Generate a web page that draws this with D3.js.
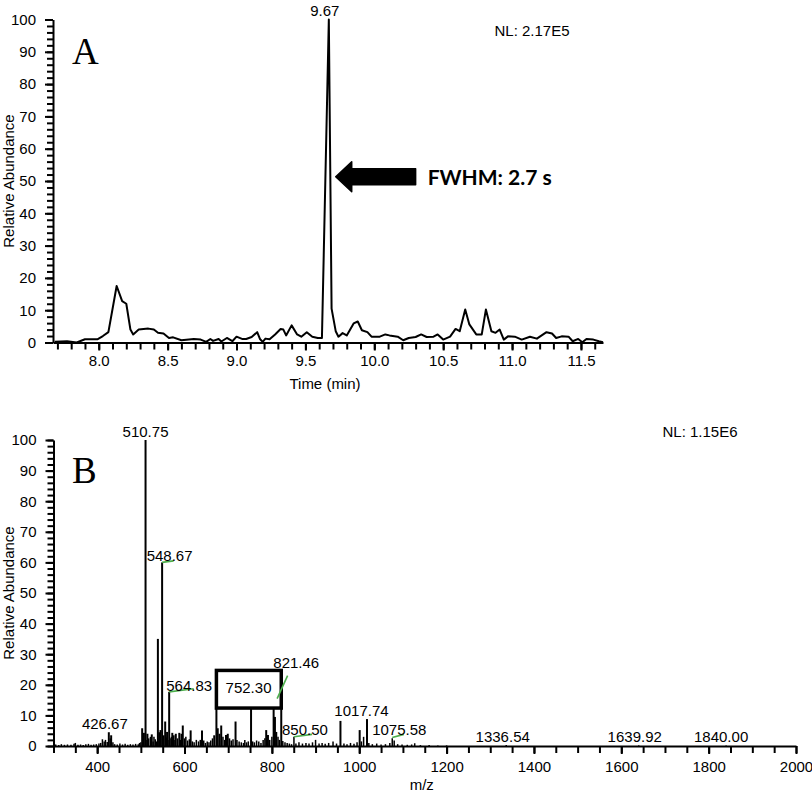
<!DOCTYPE html>
<html>
<head>
<meta charset="utf-8">
<script src="https://cdn.jsdelivr.net/npm/d3@7/dist/d3.min.js"></script>
<style>
body { margin: 0; background: #fff; }
</style>
</head>
<body>
<div id="chart"></div>
<script>
// ---- panel A : chromatogram ----
const timeMin = [7.68, 7.77, 7.84, 7.90, 7.99, 8.03, 8.07, 8.13, 8.17, 8.20, 8.23, 8.25, 8.29, 8.36, 8.40, 8.43, 8.47, 8.51, 8.54, 8.60,
  8.69, 8.74, 8.78, 8.81, 8.83, 8.87, 8.89, 8.93, 8.97, 9.00, 9.04, 9.07, 9.11, 9.15, 9.17, 9.19, 9.21, 9.24, 9.28, 9.32,
  9.34, 9.36, 9.40, 9.44, 9.47, 9.51, 9.55, 9.59, 9.62, 9.67, 9.69, 9.72, 9.74, 9.77, 9.80, 9.85, 9.88, 9.91, 9.95, 9.98,
  10.04, 10.08, 10.11, 10.17, 10.21, 10.25, 10.30, 10.34, 10.38, 10.43, 10.46, 10.50, 10.55, 10.59, 10.62, 10.66, 10.69, 10.74, 10.78, 10.81,
  10.85, 10.88, 10.91, 10.94, 10.97, 11.02, 11.07, 11.13, 11.18, 11.25, 11.29, 11.32, 11.36, 11.41, 11.44, 11.48, 11.51, 11.54, 11.59, 11.63, 11.66];
const abundanceA = [0.2, 0.4, 0, 1.0, 1.0, 2.0, 3.2, 17.5, 12.8, 12.0, 4.0, 2.5, 4.0, 4.3, 4.0, 3.0, 2.8, 1.4, 1.6, 0.7,
  1.1, 0.9, 0.2, 1.1, 0.5, 1.1, 0.3, 1.4, 0.4, 1.8, 1.1, 1.1, 1.7, 3.2, 1.1, 0.2, 1.2, 1.0, 2.5, 4.2,
  4.0, 2.2, 5.3, 2.5, 1.8, 3.2, 1.8, 1.4, 1.4, 100, 10.5, 3.5, 1.8, 2.9, 2.2, 5.9, 6.5, 3.8, 3.2, 1.8,
  1.8, 2.5, 2.2, 1.8, 0.7, 1.4, 1.7, 2.5, 1.7, 1.8, 2.5, 0.9, 1.8, 4.2, 3.5, 10.2, 5.6, 2.5, 2.5, 10.2,
  3.5, 3.0, 4.0, 0.9, 1.9, 1.8, 0.9, 1.8, 1.2, 3.2, 2.8, 1.4, 1.9, 1.8, 0.4, 1.1, 0.1, 1.1, 0.9, 0.4, 0.1];
const apexTime = 9.67;
const nlA = "NL: 2.17E5";
const fwhmText = "FWHM: 2.7 s";
const arrowTip = [9.72, 51.3];
const arrowTailTime = 10.30;
const xTicksA = [8.0, 8.5, 9.0, 9.5, 10.0, 10.5, 11.0, 11.5];
const xMinorA = d3.range(77, 117).map(d => d / 10);

// ---- panel B : mass spectrum ----
const mz = [305, 312, 318, 325, 332, 340, 347, 350, 356, 362, 368, 374, 380, 386, 392, 398, 404, 408, 412, 416,
  419, 423, 426.67, 430, 432, 436, 440, 446, 452, 458, 464, 470, 476, 482, 488, 494, 497,
  500, 503, 507, 510.75, 512, 515, 518, 522, 525, 528, 530, 533, 536, 539, 542, 545, 548.67, 552, 555.7, 558, 560, 562,
  564.83, 567, 570, 572, 575, 578, 580, 584, 588, 591, 593, 596, 600, 603, 607, 611, 614, 618, 622, 627,
  632, 636, 640, 644, 648, 652, 656, 660, 664, 668, 673, 676, 680, 684, 688, 692, 695, 699, 703, 707,
  711, 716.8, 720, 725, 730, 735, 738, 742, 746, 752.30, 756, 760, 765, 770, 775, 780, 784, 787, 791, 795,
  800, 804, 807, 810, 814, 817, 821.46, 825, 830, 835, 840, 845, 850.50, 855, 862, 870, 878, 885, 893, 900,
  908, 915, 922, 930, 940, 948, 957, 965, 972, 980, 988, 995, 1001, 1005, 1010, 1017.74, 1022, 1030, 1040, 1050,
  1060, 1070, 1075.58, 1080, 1088, 1098, 1110, 1120, 1127, 1140, 1160, 1180, 1200, 1336.54, 1639.92, 1840.00];
const abundanceB = [0.5, 0.3, 0.6, 0.4, 0.5, 0.4, 0.7, 1.0, 0.4, 0.5, 0.3, 0.6, 0.7, 0.4, 0.5, 0.6, 0.8, 1.0, 2.2, 1.5,
  2.0, 1.3, 4.5, 2.5, 3.5, 1.2, 0.6, 0.5, 0.8, 0.5, 0.7, 0.4, 0.6, 0.5, 0.7, 0.6, 1.0,
  1.2, 5.8, 4.3, 100, 2.0, 4.0, 2.5, 3.0, 3.8, 1.5, 3.0, 2.2, 1.5, 35, 4.5, 5.2, 60, 3.5, 8.0, 2.8, 4.6, 2.0,
  17.7, 2.5, 3.0, 4.3, 3.5, 2.0, 4.0, 2.5, 4.3, 2.0, 4.0, 6.7, 2.5, 3.0, 1.8, 2.2, 5.1, 1.5, 1.2, 2.0,
  1.5, 2.0, 5.1, 1.8, 1.0, 1.5, 1.2, 1.8, 2.5, 3.5, 12.5, 5.8, 4.0, 6.7, 3.0, 2.0, 3.6, 4.0, 2.5, 1.8,
  2.2, 8.0, 2.0, 1.5, 1.2, 1.0, 2.0, 1.2, 1.5, 15, 1.5, 1.2, 1.8, 1.5, 1.0, 2.0, 2.5, 5.2, 3.6, 2.0,
  3.0, 16.5, 9.5, 4.6, 3.0, 2.0, 18.5, 1.6, 1.2, 1.0, 0.8, 0.6, 3.0, 0.8, 1.2, 0.8, 1.0, 0.8, 1.2, 2.0,
  0.8, 1.0, 0.7, 1.0, 1.5, 0.8, 8.2, 0.8, 0.6, 1.0, 0.7, 1.2, 5.2, 1.5, 3.0, 8.8, 1.0, 0.6, 0.8, 0.5,
  0.6, 1.0, 2.5, 1.8, 0.6, 0.5, 0.4, 0.5, 0.9, 0.3, 0.3, 0.2, 0.2, 0.3, 0.2, 0.2];
const labelMz = [426.67, 510.75, 548.67, 564.83, 752.30, 821.46, 850.50, 1017.74, 1075.58, 1336.54, 1639.92, 1840.00];
const labelInt = [4.5, 100, 60, 17.7, 15, 18.5, 3.0, 8.8, 2.5, 0.3, 0.2, 0.2];
// label placement relative to the peak top (px): [dx, dy]
const labelOffset = [[-4, -3], [0, -3], [7.5, -1], [20, -1], [-2.5, -7.5], [15, -21], [11, -1.5], [-5.5, -3], [7, -3], [-3.5, -3], [-4, -3.5], [-5, -3.5]];
// green leader lines [mz1, int1, mz2, int2]
const leaders = [[548.67, 60, 575, 60.5], [564.83, 17.7, 621, 18.7], [812, 15.5, 836, 23], [850.5, 3.0, 892, 3.8], [1075.6, 2.8, 1102, 3.8]];
const boxMz = [673, 821.46];
const boxInt = [12.4, 24.7];
const nlB = "NL: 1.15E6";
const xTicksB = [400, 600, 800, 1000, 1200, 1400, 1600, 1800, 2000];
const xMinorB = d3.range(300, 2001, 50);

const yTicks = d3.range(0, 101, 10);
const yMinor = d3.range(0, 101, 2);

const width = 812, height = 797;
const font = "'Liberation Sans', Arial, Helvetica, sans-serif";
const green = "#4cae4c";

const svg = d3.select("#chart").append("svg")
  .attr("width", width)
  .attr("height", height)
  .style("font-family", font);

function drawAxes(x, y, xMajor, xMinor, fmt, xPad) {
  const g = svg.append("g");

  const yMin = g.append("g").attr("transform", `translate(${x.range()[0]},0)`)
    .call(d3.axisLeft(y).tickValues(yMinor).tickSize(6).tickFormat(""));
  yMin.select(".domain").remove();

  const yAx = g.append("g").attr("transform", `translate(${x.range()[0]},0)`)
    .call(d3.axisLeft(y).tickValues(yTicks).tickSize(8).tickSizeOuter(0).tickPadding(9));

  const xMin = g.append("g").attr("transform", `translate(0,${y.range()[0]})`)
    .call(d3.axisBottom(x).tickValues(xMinor).tickSize(7).tickFormat(""));
  xMin.select(".domain").remove();

  const xAx = g.append("g").attr("transform", `translate(0,${y.range()[0]})`)
    .call(d3.axisBottom(x).tickValues(xMajor).tickSize(8).tickSizeOuter(0).tickPadding(xPad).tickFormat(fmt));

  g.selectAll("path, line").attr("stroke", "#000").attr("stroke-width", 2);
  g.selectAll("text").attr("font-family", font).attr("font-size", 15).attr("fill", "#000");
  return g;
}

function yTitle(cy) {
  svg.append("text")
    .attr("transform", `translate(14,${cy}) rotate(-90)`)
    .attr("text-anchor", "middle")
    .attr("font-size", 15)
    .text("Relative Abundance");
}

// ---------- panel A ----------
const xA = d3.scaleLinear().domain([7.668, 11.66]).range([53, 603]);
const yA = d3.scaleLinear().domain([0, 100]).range([342.5, 19.5]);

const traceA = d3.zip(timeMin, abundanceA);
svg.append("path")
  .datum(traceA)
  .attr("fill", "none")
  .attr("stroke", "#000")
  .attr("stroke-width", 2)
  .attr("stroke-linejoin", "round")
  .attr("d", d3.line().x(d => xA(d[0])).y(d => yA(d[1])));

drawAxes(xA, yA, xTicksA, xMinorA, d3.format(".1f"), 5);
yTitle((yA(0) + yA(100)) / 2);

svg.append("text")
  .attr("x", (xA.range()[0] + xA.range()[1]) / 2 - 3)
  .attr("y", 389)
  .attr("text-anchor", "middle")
  .attr("font-size", 15)
  .text("Time (min)");

svg.append("text")
  .attr("x", xA(apexTime) - 4)
  .attr("y", yA(100) - 4)
  .attr("text-anchor", "middle")
  .attr("font-size", 15)
  .text(apexTime.toFixed(2));

svg.append("text")
  .attr("x", 532).attr("y", 35.5)
  .attr("text-anchor", "middle")
  .attr("font-size", 15)
  .text(nlA);

svg.append("text")
  .attr("x", 72).attr("y", 64)
  .attr("font-family", "'Liberation Serif', 'Times New Roman', serif")
  .attr("font-size", 37)
  .text("A");

// arrow pointing at the peak
const tipX = xA(arrowTip[0]), tipY = yA(arrowTip[1]), tailX = xA(arrowTailTime);
const headLen = 16, headHalf = 15, bodyHalf = 8;
svg.append("path")
  .attr("d", `M${tipX},${tipY} L${tipX + headLen},${tipY - headHalf} L${tipX + headLen},${tipY - bodyHalf}
    L${tailX},${tipY - bodyHalf} L${tailX},${tipY + bodyHalf} L${tipX + headLen},${tipY + bodyHalf}
    L${tipX + headLen},${tipY + headHalf} Z`)
  .attr("fill", "#000")
  .attr("stroke", "#000")
  .attr("stroke-width", 1.5)
  .attr("stroke-linejoin", "round");

svg.append("text")
  .attr("x", tailX + 12).attr("y", tipY + 8)
  .attr("font-family", "Lato, 'Open Sans', sans-serif")
  .attr("font-weight", "bold")
  .attr("font-size", 21)
  .text(fwhmText);

// ---------- panel B ----------
const xB = d3.scaleLinear().domain([300, 2000]).range([53.5, 796]);
const yB = d3.scaleLinear().domain([0, 100]).range([746, 440]);

svg.append("g")
  .selectAll("line")
  .data(d3.zip(mz, abundanceB))
  .join("line")
  .attr("x1", d => xB(d[0])).attr("x2", d => xB(d[0]))
  .attr("y1", yB(0)).attr("y2", d => yB(d[1]))
  .attr("stroke", "#000")
  .attr("stroke-width", d => d[1] > 3 ? 2 : 1.5);

drawAxes(xB, yB, xTicksB, xMinorB, d3.format("d"), 7);
yTitle((yB(0) + yB(100)) / 2);

svg.append("text")
  .attr("x", (xB.range()[0] + xB.range()[1]) / 2 - 3)
  .attr("y", 790)
  .attr("text-anchor", "middle")
  .attr("font-size", 15)
  .text("m/z");

// box round the 752.30 label
svg.append("rect")
  .attr("x", xB(boxMz[0])).attr("y", yB(boxInt[1]))
  .attr("width", xB(boxMz[1]) - xB(boxMz[0]))
  .attr("height", yB(boxInt[0]) - yB(boxInt[1]))
  .attr("fill", "#fff")
  .attr("stroke", "#000")
  .attr("stroke-width", 3.5);

svg.append("g")
  .selectAll("line")
  .data(leaders)
  .join("line")
  .attr("x1", d => xB(d[0])).attr("y1", d => yB(d[1]))
  .attr("x2", d => xB(d[2])).attr("y2", d => yB(d[3]))
  .attr("stroke", green)
  .attr("stroke-width", 1.6);

svg.append("g")
  .selectAll("text")
  .data(labelMz)
  .join("text")
  .attr("x", (d, i) => xB(d) + labelOffset[i][0])
  .attr("y", (d, i) => yB(labelInt[i]) + labelOffset[i][1])
  .attr("text-anchor", "middle")
  .attr("font-size", 15)
  .text(d => d.toFixed(2));

svg.append("text")
  .attr("x", 700).attr("y", 437)
  .attr("text-anchor", "middle")
  .attr("font-size", 15)
  .text(nlB);

svg.append("text")
  .attr("x", 72).attr("y", 483)
  .attr("font-family", "'Liberation Serif', 'Times New Roman', serif")
  .attr("font-size", 37)
  .text("B");
</script>
</body>
</html>
